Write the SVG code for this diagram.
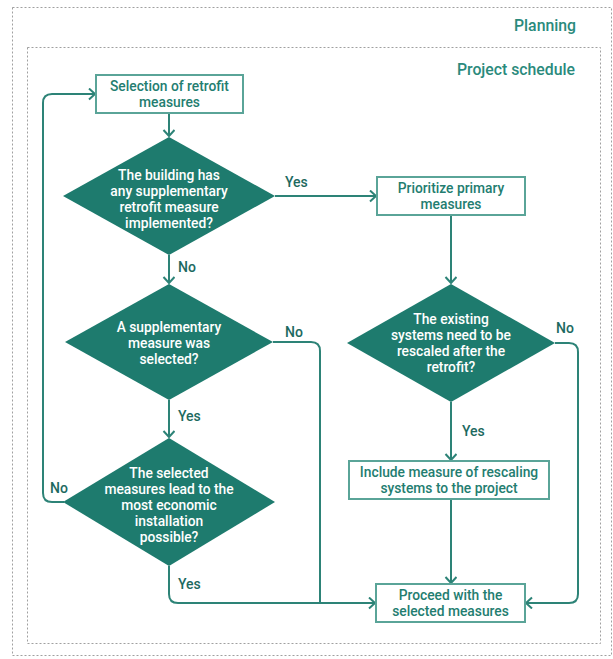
<svg xmlns="http://www.w3.org/2000/svg" width="613" height="659" viewBox="0 0 613 659">
<defs>
<style>
.frame{fill:none;stroke:#a0a0a0;stroke-width:1;stroke-dasharray:2 2}
.title{font-family:Roboto,"Liberation Sans",sans-serif;font-weight:500;font-size:15.8px;fill:#2a8a7c;text-anchor:end}
.box{fill:#ffffff;stroke:#5aa498;stroke-width:2}
.btext{font-family:Roboto,"Liberation Sans",sans-serif;font-weight:500;font-size:13.8px;fill:#237d70;text-anchor:middle}
.dia{fill:#1e7b6e}
.dtext{font-family:Roboto,"Liberation Sans",sans-serif;font-weight:500;font-size:13.8px;fill:#ffffff;text-anchor:middle}
.conn{fill:none;stroke:#2d8377;stroke-width:2}
.lbl{font-family:Roboto,"Liberation Sans",sans-serif;font-weight:500;font-size:14px;fill:#1d6a5f}
</style>
<marker id="arr" markerUnits="userSpaceOnUse" markerWidth="14" markerHeight="14" refX="7" refY="6" orient="auto">
<path d="M1,0.5 L7,6 L1,11.5" fill="none" stroke="#2d8377" stroke-width="2"/>
</marker>
</defs>
<rect class="frame" x="12.5" y="7.5" width="599" height="648"/>
<text class="title" x="576" y="31">Planning</text>
<rect class="frame" x="27.5" y="47.5" width="573" height="596"/>
<text class="title" x="575" y="75">Project schedule</text>

<g id="connectors">
<path class="conn" d="M169,113 V136" marker-end="url(#arr)"/>
<path class="conn" d="M275,196 H376" marker-end="url(#arr)"/>
<path class="conn" d="M169,255 V283" marker-end="url(#arr)"/>
<path class="conn" d="M451,215 V283" marker-end="url(#arr)"/>
<path class="conn" d="M451,402 V460" marker-end="url(#arr)"/>
<path class="conn" d="M451,499 V583" marker-end="url(#arr)"/>
<path class="conn" d="M555,343 H569 Q578,343 578,352 V594 Q578,603 569,603 H526" marker-end="url(#arr)"/>
<path class="conn" d="M169,400 V437" marker-end="url(#arr)"/>
<path class="conn" d="M273,342 H311 Q320,342 320,351 V603"/>
<path class="conn" d="M169,566 V594 Q169,603 178,603 H375" marker-end="url(#arr)"/>
<path class="conn" d="M64,502 H52 Q43,502 43,493 V103 Q43,94 52,94 H95" marker-end="url(#arr)"/>
<text class="lbl" x="285" y="187">Yes</text>
<text class="lbl" x="178" y="272">No</text>
<text class="lbl" x="556" y="333">No</text>
<text class="lbl" x="462" y="436">Yes</text>
<text class="lbl" x="285" y="337">No</text>
<text class="lbl" x="178" y="421">Yes</text>
<text class="lbl" x="50" y="493">No</text>
<text class="lbl" x="178" y="589">Yes</text>
</g>

<g id="selection">
<rect class="box" x="96" y="75" width="147" height="38"/>
<text class="btext" x="169.5" y="91">Selection of retrofit</text>
<text class="btext" x="169.5" y="106.5">measures</text>
</g>

<g id="decision-building">
<polygon class="dia" points="169,137 275,196 169,255 63,196"/>
<text class="dtext" x="169" y="179.5">The building has</text>
<text class="dtext" x="169" y="195.5">any supplementary</text>
<text class="dtext" x="169" y="211.5">retrofit measure</text>
<text class="dtext" x="169" y="227.5">implemented?</text>
</g>

<g id="prioritize">
<rect class="box" x="377" y="177" width="148" height="38"/>
<text class="btext" x="451" y="192.5">Prioritize primary</text>
<text class="btext" x="451" y="208.5">measures</text>
</g>

<g id="decision-rescale">
<polygon class="dia" points="451,284 555,343 451,402 347,343"/>
<text class="dtext" x="451" y="323.5">The existing</text>
<text class="dtext" x="451" y="339.5">systems need to be</text>
<text class="dtext" x="451" y="355.5">rescaled after the</text>
<text class="dtext" x="451" y="371.5">retrofit?</text>
</g>

<g id="decision-supplementary">
<polygon class="dia" points="169,284 273,342 169,400 65,342"/>
<text class="dtext" x="169" y="331.5">A supplementary</text>
<text class="dtext" x="169" y="347.5">measure was</text>
<text class="dtext" x="169" y="363.5">selected?</text>
</g>

<g id="decision-economic">
<polygon class="dia" points="169,438 275,502 169,566 63,502"/>
<text class="dtext" x="169" y="478">The selected</text>
<text class="dtext" x="169" y="494">measures lead to the</text>
<text class="dtext" x="169" y="510">most economic</text>
<text class="dtext" x="169" y="526">installation</text>
<text class="dtext" x="169" y="542">possible?</text>
</g>

<g id="include">
<rect class="box" x="349" y="461" width="200" height="38"/>
<text class="btext" x="449" y="477">Include measure of rescaling</text>
<text class="btext" x="449" y="493">systems to the project</text>
</g>

<g id="proceed">
<rect class="box" x="376" y="584" width="149" height="38"/>
<text class="btext" x="450.5" y="599.5">Proceed with the</text>
<text class="btext" x="450.5" y="615.5">selected measures</text>
</g>
</svg>
